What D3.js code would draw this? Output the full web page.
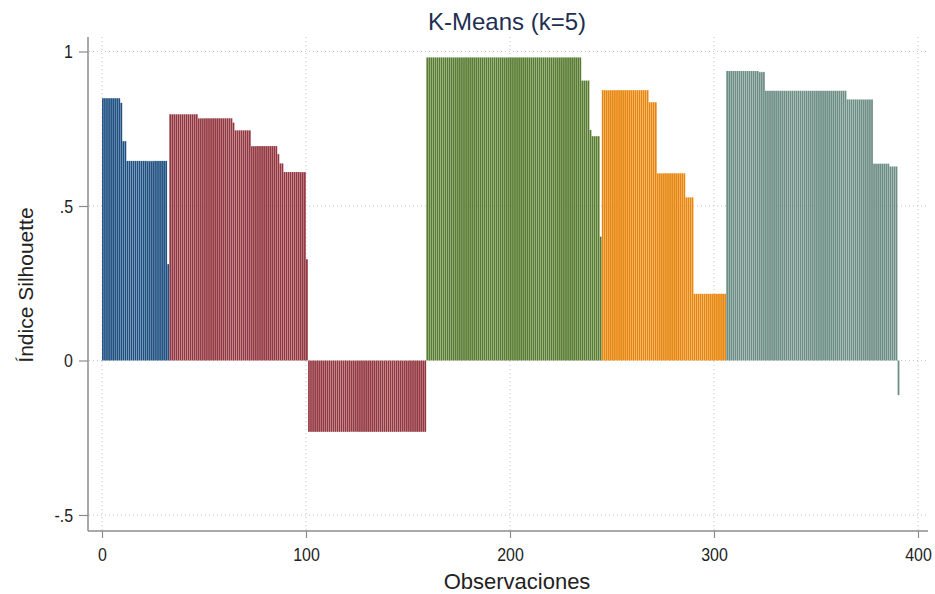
<!DOCTYPE html>
<html>
<head>
<meta charset="utf-8">
<script src="https://cdn.jsdelivr.net/npm/d3@7"></script>
<style>
  body { margin: 0; background: #fff; }
  text { font-family: "Liberation Sans", Arial, sans-serif; }
</style>
</head>
<body>
<div id="chart"></div>
<script>
// silhouette values per cluster, sorted as in the plot (value, number of observations)
var clusterColors = ["#1d4f82", "#943640", "#577c30", "#e8850a", "#6c8e84"];
var runValues = [
  [0.849, 0.834, 0.710, 0.646, 0.312],
  [0.797, 0.784, 0.770, 0.745, 0.694, 0.668, 0.638, 0.610, 0.328, -0.231],
  [0.981, 0.906, 0.746, 0.726, 0.401],
  [0.875, 0.836, 0.606, 0.528, 0.216],
  [0.937, 0.934, 0.873, 0.845, 0.637, 0.628, -0.112]
];
var runCounts = [
  [9, 1, 2, 20, 1],
  [14, 17, 1, 8, 13, 1, 2, 11, 1, 58],
  [76, 4, 1, 4, 1],
  [23, 4, 14, 4, 16],
  [16, 3, 40, 13, 8, 4, 1]
];
var xTicks = [0, 100, 200, 300, 400];
var yTicks = [1, 0.5, 0, -0.5];
var yTickLabels = ["1", ".5", "0", "-.5"];

// expand runs into one row per observation
var obs = [];
var n = 0;
for (var c = 0; c < runValues.length; c++) {
  for (var r = 0; r < runValues[c].length; r++) {
    for (var k = 0; k < runCounts[c][r]; k++) {
      n++;
      obs.push({ id: n, cluster: c, s: runValues[c][r] });
    }
  }
}

var W = 935, H = 594;
var svg = d3.select("#chart").append("svg")
  .attr("width", W).attr("height", H);

var x = d3.scaleLinear().domain([0, 400]).range([102, 918]);
var y = d3.scaleLinear().domain([-0.5, 1]).range([515, 51.5]);

var axisLeftX = 88, axisBottomY = 531, plotRight = 928, plotTop = 37;

// grid
svg.append("g").selectAll("line.hg")
  .data(yTicks).enter().append("line")
  .attr("x1", axisLeftX + 1).attr("x2", plotRight)
  .attr("y1", function(d) { return y(d); }).attr("y2", function(d) { return y(d); })
  .attr("stroke", "#c4c4c4").attr("stroke-width", 1)
  .attr("stroke-dasharray", "1,3");
svg.append("g").selectAll("line.vg")
  .data(xTicks).enter().append("line")
  .attr("x1", function(d) { return x(d); }).attr("x2", function(d) { return x(d); })
  .attr("y1", plotTop).attr("y2", axisBottomY - 1)
  .attr("stroke", "#c4c4c4").attr("stroke-width", 1)
  .attr("stroke-dasharray", "1,3");

// bars
svg.append("g").selectAll("rect")
  .data(obs).enter().append("rect")
  .attr("x", function(d) { return x(d.id - 1); })
  .attr("width", x(1) - x(0) - 0.2)
  .attr("y", function(d) { return Math.min(y(d.s), y(0)); })
  .attr("height", function(d) { return Math.abs(y(d.s) - y(0)); })
  .attr("fill", function(d) { return clusterColors[d.cluster]; })
  .attr("stroke", "#ffffff").attr("stroke-opacity", 0.25).attr("stroke-width", 0.3);

// axes
var axisColor = "#8c8c8c";
var yAxis = svg.append("g")
  .attr("transform", "translate(" + axisLeftX + ",0)")
  .call(d3.axisLeft(y).tickValues(yTicks)
    .tickFormat(function(d, i) { return yTickLabels[i]; })
    .tickSize(9).tickPadding(6));
yAxis.select(".domain").attr("d", "M0," + plotTop + "V" + axisBottomY);
var xAxis = svg.append("g")
  .attr("transform", "translate(0," + axisBottomY + ")")
  .call(d3.axisBottom(x).tickValues(xTicks).tickSize(7).tickPadding(10));
xAxis.select(".domain").attr("d", "M" + axisLeftX + ",0H" + plotRight);

svg.selectAll(".domain").attr("stroke", axisColor).attr("stroke-width", 1.5);
svg.selectAll(".tick line").attr("stroke", axisColor).attr("stroke-width", 1.2);
svg.selectAll(".tick text").attr("fill", "#222").style("font-size", "19px");
// condensed look of the original tick labels
xAxis.selectAll(".tick text").attr("transform", "scale(0.84,1)");
yAxis.selectAll(".tick text").attr("x", -15 / 0.84).attr("transform", "scale(0.84,1)");

// titles
svg.append("text").attr("x", 507).attr("y", 30)
  .attr("text-anchor", "middle").attr("fill", "#1e2f52")
  .style("font-size", "24px").text("K-Means (k=5)");
svg.append("text").attr("x", 517).attr("y", 589)
  .attr("text-anchor", "middle").attr("fill", "#222")
  .style("font-size", "22px").text("Observaciones");
svg.append("text")
  .attr("transform", "translate(33,285) rotate(-90)")
  .attr("text-anchor", "middle").attr("fill", "#222")
  .style("font-size", "21px").text("Índice Silhouette");
</script>
</body>
</html>
